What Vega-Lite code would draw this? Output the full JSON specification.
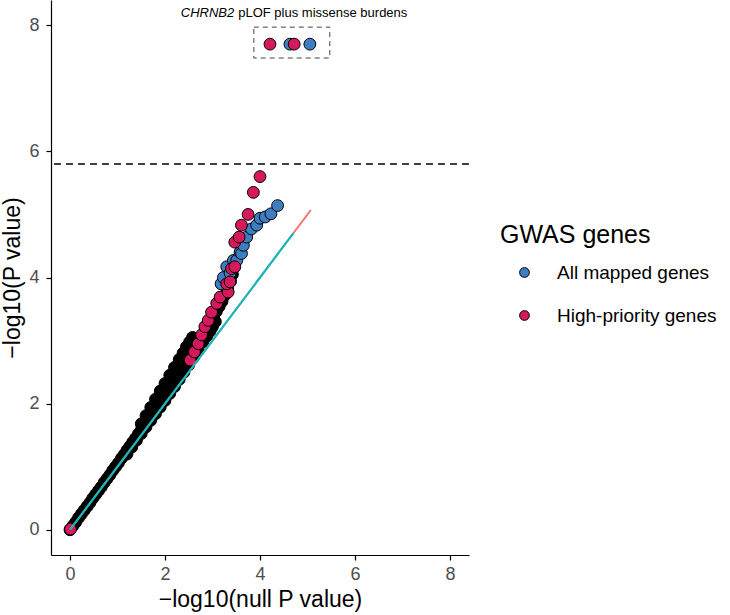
{
  "$schema": "https://vega.github.io/schema/vega-lite/v6.json",
  "width": 418,
  "height": 555,
  "autosize": {"type": "none"},
  "padding": {"left": 51, "top": 0, "right": 261, "bottom": 60},
  "background": "#ffffff",
  "datasets": {
    "background": [
      {"x": 0, "y": 0}, {"x": 0.06, "y": 0.06}, {"x": 0.12, "y": 0.12}, {"x": 0.18, "y": 0.19},
      {"x": 0.24, "y": 0.25}, {"x": 0.3, "y": 0.31}, {"x": 0.36, "y": 0.37}, {"x": 0.42, "y": 0.43},
      {"x": 0.48, "y": 0.5}, {"x": 0.54, "y": 0.56}, {"x": 0.6, "y": 0.62}, {"x": 0.66, "y": 0.68},
      {"x": 0.72, "y": 0.75}, {"x": 0.78, "y": 0.81}, {"x": 0.84, "y": 0.87}, {"x": 0.9, "y": 0.94},
      {"x": 0.96, "y": 1.0}, {"x": 1.02, "y": 1.06}, {"x": 1.08, "y": 1.13}, {"x": 1.14, "y": 1.19},
      {"x": 1.2, "y": 1.26}, {"x": 1.26, "y": 1.32}, {"x": 1.32, "y": 1.39}, {"x": 1.38, "y": 1.45},
      {"x": 1.44, "y": 1.52}, {"x": 1.5, "y": 1.58}, {"x": 1.56, "y": 1.65}, {"x": 1.62, "y": 1.71},
      {"x": 1.68, "y": 1.78}, {"x": 1.74, "y": 1.85}, {"x": 1.8, "y": 1.92}, {"x": 1.86, "y": 1.99},
      {"x": 1.92, "y": 2.06}, {"x": 1.98, "y": 2.13}, {"x": 2.04, "y": 2.2}, {"x": 2.1, "y": 2.27},
      {"x": 2.16, "y": 2.35}, {"x": 2.22, "y": 2.42}, {"x": 2.28, "y": 2.5}, {"x": 2.34, "y": 2.58},
      {"x": 2.4, "y": 2.66}, {"x": 2.46, "y": 2.74}, {"x": 2.52, "y": 2.82},
      {"x": 1.53, "y": 1.615}, {"x": 1.59, "y": 1.68}, {"x": 1.65, "y": 1.745}, {"x": 1.71, "y": 1.815},
      {"x": 1.77, "y": 1.885}, {"x": 1.83, "y": 1.955}, {"x": 1.89, "y": 2.025}, {"x": 1.95, "y": 2.095},
      {"x": 2.01, "y": 2.165}, {"x": 2.07, "y": 2.235}, {"x": 2.13, "y": 2.31}, {"x": 2.19, "y": 2.385},
      {"x": 2.25, "y": 2.46}, {"x": 2.31, "y": 2.54}, {"x": 2.37, "y": 2.62}, {"x": 2.43, "y": 2.7},
      {"x": 2.49, "y": 2.78}, {"x": 2.56, "y": 2.85},
      {"x": 2.66, "y": 2.9}, {"x": 2.72, "y": 2.98}, {"x": 2.78, "y": 3.06}, {"x": 2.84, "y": 3.14},
      {"x": 2.9, "y": 3.22}, {"x": 2.96, "y": 3.3}, {"x": 3.02, "y": 3.38}, {"x": 3.08, "y": 3.46},
      {"x": 3.14, "y": 3.54}, {"x": 3.2, "y": 3.62}, {"x": 3.26, "y": 3.72}, {"x": 3.32, "y": 3.82},
      {"x": 3.38, "y": 3.94}, {"x": 3.42, "y": 4.05},
      {"x": 1.2, "y": 1.2}, {"x": 1.3, "y": 1.31}, {"x": 1.4, "y": 1.42}, {"x": 1.5, "y": 1.525},
      {"x": 1.6, "y": 1.63}, {"x": 1.7, "y": 1.735}, {"x": 1.8, "y": 1.84}, {"x": 1.9, "y": 1.945},
      {"x": 2.0, "y": 2.05}, {"x": 2.1, "y": 2.16}, {"x": 2.2, "y": 2.27}, {"x": 2.3, "y": 2.385},
      {"x": 2.4, "y": 2.5}, {"x": 2.5, "y": 2.615}, {"x": 2.6, "y": 2.73}, {"x": 2.7, "y": 2.855},
      {"x": 2.8, "y": 2.98}, {"x": 2.88, "y": 3.07}, {"x": 2.95, "y": 3.15}, {"x": 3.0, "y": 3.22},
      {"x": 3.06, "y": 3.3},
      {"x": 1.5, "y": 1.68}, {"x": 1.6, "y": 1.81}, {"x": 1.7, "y": 1.94}, {"x": 1.8, "y": 2.07},
      {"x": 1.9, "y": 2.2}, {"x": 2.0, "y": 2.32}, {"x": 2.1, "y": 2.45}, {"x": 2.2, "y": 2.575},
      {"x": 2.3, "y": 2.7}, {"x": 2.38, "y": 2.8}, {"x": 2.45, "y": 2.9}, {"x": 2.52, "y": 2.98},
      {"x": 2.58, "y": 3.05}
    ],
    "gwas": [
      {"x": 3.18, "y": 3.9, "set": "All mapped genes"},
      {"x": 3.23, "y": 4.0, "set": "All mapped genes"},
      {"x": 3.3, "y": 4.17, "set": "All mapped genes"},
      {"x": 3.37, "y": 4.07, "set": "All mapped genes"},
      {"x": 3.44, "y": 4.27, "set": "All mapped genes"},
      {"x": 3.51, "y": 4.27, "set": "All mapped genes"},
      {"x": 3.58, "y": 4.4, "set": "All mapped genes"},
      {"x": 3.61, "y": 4.38, "set": "All mapped genes"},
      {"x": 3.65, "y": 4.51, "set": "All mapped genes"},
      {"x": 3.72, "y": 4.64, "set": "All mapped genes"},
      {"x": 3.82, "y": 4.77, "set": "All mapped genes"},
      {"x": 3.93, "y": 4.83, "set": "All mapped genes"},
      {"x": 4.0, "y": 4.94, "set": "All mapped genes"},
      {"x": 4.11, "y": 4.96, "set": "All mapped genes"},
      {"x": 4.23, "y": 5.01, "set": "All mapped genes"},
      {"x": 4.37, "y": 5.14, "set": "All mapped genes"},
      {"x": 4.63, "y": 7.7, "set": "All mapped genes"},
      {"x": 5.05, "y": 7.7, "set": "All mapped genes"},
      {"x": 0.01, "y": 0.01, "set": "High-priority genes"},
      {"x": 2.53, "y": 2.69, "set": "High-priority genes"},
      {"x": 2.62, "y": 2.82, "set": "High-priority genes"},
      {"x": 2.7, "y": 2.95, "set": "High-priority genes"},
      {"x": 2.77, "y": 3.09, "set": "High-priority genes"},
      {"x": 2.84, "y": 3.22, "set": "High-priority genes"},
      {"x": 2.91, "y": 3.32, "set": "High-priority genes"},
      {"x": 2.98, "y": 3.45, "set": "High-priority genes"},
      {"x": 3.09, "y": 3.59, "set": "High-priority genes"},
      {"x": 3.16, "y": 3.69, "set": "High-priority genes"},
      {"x": 3.33, "y": 3.77, "set": "High-priority genes"},
      {"x": 3.3, "y": 3.9, "set": "High-priority genes"},
      {"x": 3.37, "y": 3.93, "set": "High-priority genes"},
      {"x": 3.4, "y": 4.14, "set": "High-priority genes"},
      {"x": 3.47, "y": 4.17, "set": "High-priority genes"},
      {"x": 3.47, "y": 4.56, "set": "High-priority genes"},
      {"x": 3.56, "y": 4.64, "set": "High-priority genes"},
      {"x": 3.61, "y": 4.83, "set": "High-priority genes"},
      {"x": 3.75, "y": 5.0, "set": "High-priority genes"},
      {"x": 3.86, "y": 5.35, "set": "High-priority genes"},
      {"x": 4.0, "y": 5.6, "set": "High-priority genes"},
      {"x": 4.21, "y": 7.7, "set": "High-priority genes"},
      {"x": 4.72, "y": 7.7, "set": "High-priority genes"}
    ],
    "expected_all": [{"x": 0, "y": 0}, {"x": 5.07, "y": 5.07}],
    "expected_hp": [{"x": 0, "y": 0}, {"x": 4.7, "y": 4.7}]
  },
  "layer": [
    {
      "data": {"name": "background"},
      "mark": {"type": "point", "filled": true, "fill": "black", "stroke": "black", "strokeWidth": 1, "size": 140, "opacity": 1},
      "encoding": {
        "x": {
          "field": "x",
          "type": "quantitative",
          "scale": {"domain": [-0.4, 8.4], "nice": false, "zero": false},
          "axis": {"title": "−log10(null P value)", "values": [0, 2, 4, 6, 8], "format": "d"}
        },
        "y": {
          "field": "y",
          "type": "quantitative",
          "scale": {"domain": [-0.4, 8.4], "nice": false, "zero": false},
          "axis": {"title": "−log10(P value)", "values": [0, 2, 4, 6, 8], "format": "d"}
        }
      }
    },
    {
      "data": {"values": [{"threshold": 5.8}]},
      "mark": {"type": "rule", "color": "black", "strokeWidth": 1.3, "strokeDash": [7, 5]},
      "encoding": {
        "y": {"field": "threshold", "type": "quantitative"}
      }
    },
    {
      "data": {"values": [{"x1": 3.87, "x2": 5.47, "y1": 7.48, "y2": 7.97}]},
      "mark": {"type": "rect", "fill": null, "fillOpacity": 0, "stroke": "#444444", "strokeWidth": 1, "strokeDash": [5, 4]},
      "encoding": {
        "x": {"field": "x1", "type": "quantitative"},
        "x2": {"field": "x2"},
        "y": {"field": "y1", "type": "quantitative"},
        "y2": {"field": "y2"}
      }
    },
    {
      "data": {"name": "gwas"},
      "mark": {"type": "point", "filled": true, "stroke": "black", "strokeWidth": 1, "size": 140, "opacity": 1},
      "encoding": {
        "x": {"field": "x", "type": "quantitative"},
        "y": {"field": "y", "type": "quantitative"},
        "color": {
          "field": "set",
          "type": "nominal",
          "scale": {"domain": ["All mapped genes", "High-priority genes"], "range": ["#3D7EC3", "#D6185C"]},
          "legend": {
            "title": "GWAS genes",
            "orient": "none",
            "legendX": 449,
            "legendY": 223,
            "symbolType": "circle",
            "symbolSize": 95,
            "symbolStrokeColor": "black",
            "symbolStrokeWidth": 1,
            "symbolOffset": 15,
            "labelOffset": 23,
            "rowPadding": 23,
            "titlePadding": 15
          }
        }
      }
    },
    {
      "data": {"name": "expected_all"},
      "mark": {"type": "line", "color": "#F8766D", "strokeWidth": 2},
      "encoding": {
        "x": {"field": "x", "type": "quantitative"},
        "y": {"field": "y", "type": "quantitative"}
      }
    },
    {
      "data": {"name": "expected_hp"},
      "mark": {"type": "line", "color": "#00BFC4", "strokeWidth": 2},
      "encoding": {
        "x": {"field": "x", "type": "quantitative"},
        "y": {"field": "y", "type": "quantitative"}
      }
    },
    {
      "data": {"values": [{"x": 3.5, "y": 8.2, "label": "CHRNB2"}]},
      "mark": {"type": "text", "align": "right", "baseline": "middle", "dx": -2, "fontStyle": "italic", "fontSize": 13, "font": "Liberation Sans", "color": "black"},
      "encoding": {
        "x": {"field": "x", "type": "quantitative"},
        "y": {"field": "y", "type": "quantitative"},
        "text": {"field": "label"}
      }
    },
    {
      "data": {"values": [{"x": 3.5, "y": 8.2, "label": "pLOF plus missense burdens"}]},
      "mark": {"type": "text", "align": "left", "baseline": "middle", "dx": 2, "fontSize": 13, "font": "Liberation Sans", "color": "black"},
      "encoding": {
        "x": {"field": "x", "type": "quantitative"},
        "y": {"field": "y", "type": "quantitative"},
        "text": {"field": "label"}
      }
    }
  ],
  "config": {
    "font": "Liberation Sans",
    "view": {"stroke": null},
    "axis": {
      "grid": false,
      "domainColor": "black",
      "domainWidth": 1.2,
      "tickColor": "black",
      "tickWidth": 1.2,
      "tickSize": 5,
      "labelFontSize": 18,
      "labelColor": "#4D4D4D",
      "titleFontSize": 23,
      "titleFontWeight": "normal",
      "titleColor": "black"
    },
    "axisX": {"titlePadding": 5, "labelPadding": 5},
    "axisY": {"titlePadding": 4, "labelPadding": 7},
    "legend": {
      "titleFontSize": 25,
      "titleFontWeight": "normal",
      "titleColor": "black",
      "labelFontSize": 19,
      "labelColor": "black"
    }
  }
}
